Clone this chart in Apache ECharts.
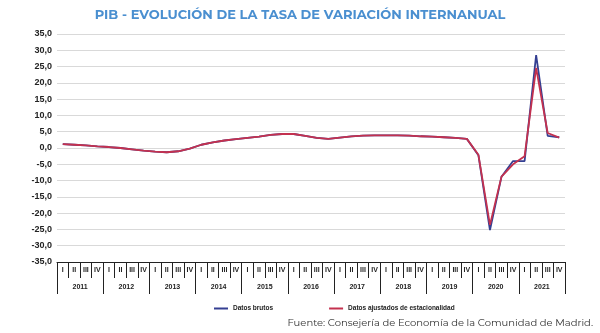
<!DOCTYPE html>
<html>
<head>
<meta charset="utf-8">
<script src="https://cdn.jsdelivr.net/npm/echarts@6/dist/echarts.min.js"></script>
<style>
html,body{margin:0;padding:0;background:#fff;}
#c{width:600px;height:333px;}
</style>
</head>
<body>
<div id="c"></div>
<script>
const years = ['2011','2012','2013','2014','2015','2016','2017','2018','2019','2020','2021'];
const quarterNames = ['I','II','III','IV'];
const quarters = [];
years.forEach(y => quarterNames.forEach(q => quarters.push(y + ' ' + q)));

const datosBrutos = [
  1.2, 1.0, 0.8, 0.5,
  0.3, 0.0, -0.4, -0.8,
  -1.1, -1.3, -1.0, -0.2,
  1.0, 1.7, 2.3, 2.7,
  3.1, 3.5, 4.0, 4.3,
  4.3, 3.7, 3.1, 2.8,
  3.2, 3.6, 3.8, 3.9,
  3.9, 3.9, 3.8, 3.6,
  3.5, 3.3, 3.1, 2.8,
  -2.2, -25.2, -8.8, -4.0,
  -4.0, 28.5, 3.7, 3.3
];
const datosAjustados = [
  1.2, 1.0, 0.8, 0.5,
  0.3, 0.0, -0.4, -0.8,
  -1.1, -1.3, -1.0, -0.2,
  1.0, 1.7, 2.3, 2.7,
  3.1, 3.5, 4.0, 4.3,
  4.3, 3.7, 3.1, 2.8,
  3.2, 3.6, 3.8, 3.9,
  3.9, 3.9, 3.8, 3.6,
  3.5, 3.3, 3.1, 2.8,
  -2.1, -23.6, -8.8, -5.0,
  -2.5, 24.6, 4.6, 3.2
];
const yTicks = {min: -35, max: 35, interval: 5};

const chart = echarts.init(document.getElementById('c'), null, {renderer: 'canvas'});
const labelFont = {fontFamily: 'Liberation Sans, Arial, sans-serif', fontWeight: 'bold', color: '#222'};
chart.setOption({
  animation: false,
  backgroundColor: '#fff',
  title: {
    text: 'PIB - EVOLUCIÓN DE LA TASA DE VARIACIÓN INTERNANUAL',
    left: 'center', top: 4,
    textStyle: {fontFamily: 'Montserrat, Open Sans, sans-serif', fontWeight: 'bold', fontSize: 13, color: '#4a8fd0'}
  },
  legend: {
    left: 209, top: 300,
    itemWidth: 14, itemHeight: 2, itemGap: 56,
    icon: 'rect',
    textStyle: Object.assign({fontSize: 6.5}, labelFont),
    data: ['Datos brutos', 'Datos ajustados de estacionalidad']
  },
  grid: {left: 57, right: 35, top: 34, bottom: 71},
  xAxis: [{
    type: 'category',
    data: quarters,
    boundaryGap: true,
    axisLine: {onZero: false, lineStyle: {color: '#222', width: 1}},
    axisTick: {show: true, interval: 0, length: 16, lineStyle: {color: '#222'}},
    axisLabel: Object.assign({interval: 0, fontSize: 7, margin: 5, formatter: v => v.split(' ')[1]}, labelFont),
    splitLine: {show: false}
  }, {
    type: 'category',
    data: years,
    position: 'bottom',
    offset: 16,
    boundaryGap: true,
    axisLine: {show: false, onZero: false},
    axisTick: {show: true, interval: 0, length: 16, lineStyle: {color: '#222'}},
    axisLabel: Object.assign({interval: 0, fontSize: 7, margin: 6}, labelFont)
  }],
  yAxis: {
    type: 'value',
    min: yTicks.min, max: yTicks.max, interval: yTicks.interval,
    axisLine: {show: false},
    axisTick: {show: false},
    axisLabel: Object.assign({fontSize: 9, margin: 5, formatter: v => v.toFixed(1).replace('.', ',')}, labelFont),
    splitLine: {lineStyle: {color: '#d9d9d9', width: 1}}
  },
  series: [{
    name: 'Datos brutos',
    type: 'line',
    data: datosBrutos,
    symbol: 'none',
    color: '#343f92',
    lineStyle: {width: 1.8, color: '#343f92'}
  }, {
    name: 'Datos ajustados de estacionalidad',
    type: 'line',
    data: datosAjustados,
    symbol: 'none',
    color: '#c4314f',
    lineStyle: {width: 1.8, color: '#c4314f'}
  }],
  graphic: [{
    type: 'text',
    right: 7, top: 318,
    style: {text: 'Fuente: Consejería de Economía de la Comunidad de Madrid.', fontFamily: 'Montserrat, Open Sans, sans-serif', fontSize: 10, fill: '#333'}
  }]
});
</script>
</body>
</html>
